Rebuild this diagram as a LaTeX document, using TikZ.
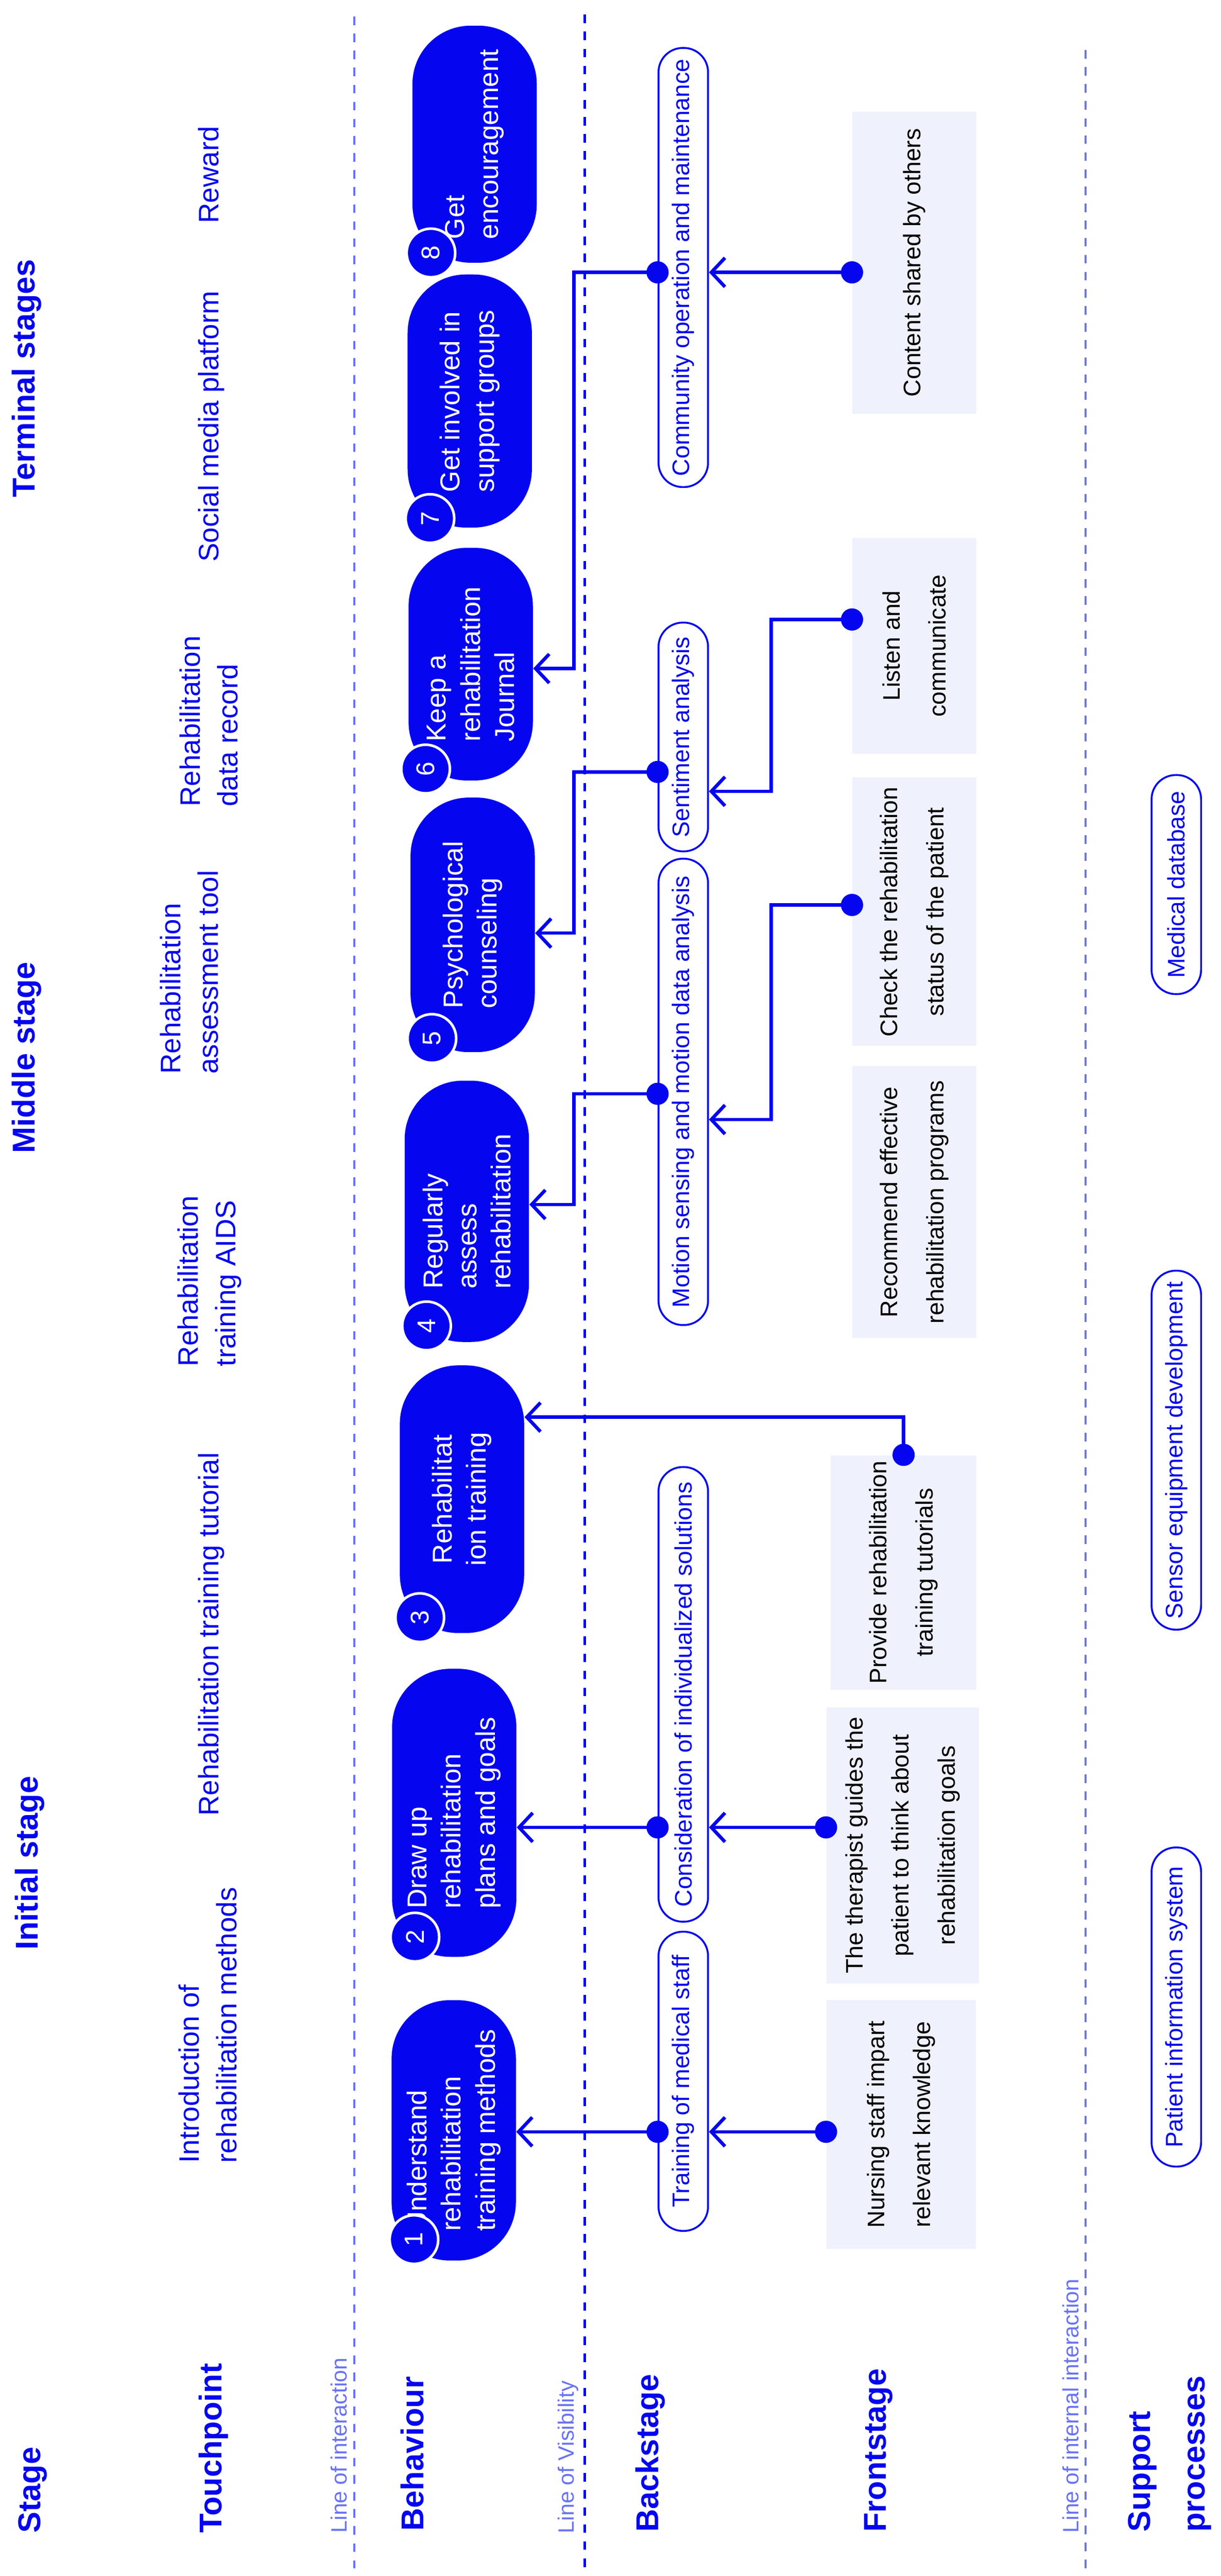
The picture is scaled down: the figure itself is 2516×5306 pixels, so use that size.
\documentclass[tikz,border=0pt]{standalone}
\usepackage{fontspec}
\setmainfont{Liberation Sans}
\usepackage{xcolor}
\usepackage{tikz}
\usetikzlibrary{arrows.meta}
\usetikzlibrary{positioning}

\definecolor{bluC}{RGB}{5,5,240}
\definecolor{bluL}{RGB}{105,115,245}
\definecolor{boxF}{RGB}{239,242,253}

\begin{document}
\begin{tikzpicture}[x=0.01cm,y=-0.01cm,
    head/.style={rotate=90,anchor=west,align=left,text=bluC,font=\fontsize{18.5}{32}\selectfont\bfseries,inner sep=0},
    touch/.style={rotate=90,anchor=west,align=left,text=bluC,font=\fontsize{16.5}{22}\selectfont,inner sep=0},
    linelab/.style={rotate=90,anchor=west,text=bluL,font=\fontsize{13}{15}\selectfont,inner sep=0},
    sepline/.style={bluL,line width=1.3pt,dash pattern=on 5pt off 5pt},
    pill/.style={rotate=90,fill=bluC,rounded corners=1.2cm,minimum height=2.56cm,text=white,align=left,font=\fontsize{16}{20}\selectfont},
    num/.style={circle,fill=bluC,draw=white,line width=1.5pt,minimum size=1cm,inner sep=0,text=white,rotate=90,font=\fontsize{15}{15}\selectfont},
    back/.style={rotate=90,draw=bluC,line width=1.1pt,rounded corners=0.5cm,minimum height=1.02cm,text=bluC,font=\fontsize{14}{16}\selectfont},
    front/.style={rotate=90,fill=boxF,align=center,font=\fontsize{14}{27}\selectfont},
    conn/.style={bluC,line width=2pt,{Circle[length=13pt]}-{Straight Barb[length=8pt,width=17pt]},shorten <=-6.5pt}]
  \useasboundingbox (0,0) rectangle (2516,5306);

  % separating lines
  \draw[sepline] (730,34) -- (730,5290);
  \draw[sepline,bluC] (1205,30) -- (1205,5290);
  \draw[sepline] (2237,103) -- (2237,5290);
  \node[linelab] (lInt) at (698,5218) {Line of interaction};
  \node[linelab] (lVis) at (1171,5219) {Line of Visibility};
  \node[linelab] (lInn) at (2206,5218) {Line of internal interaction};

  % row and stage headings
  \node[head] (hStage) at (68,5218) {Stage};
  \node[head] (hInit) at (61,4017) {Initial stage};
  \node[head] (hMid) at (55,2376) {Middle stage};
  \node[head] (hTerm) at (55,1025) {Terminal stages};
  \node[head] (hTouch) at (440,5218) {Touchpoint};
  \node[head] (hBeh) at (850,5214) {Behaviour};
  \node[head] (hBack) at (1340,5216) {Backstage};
  \node[head] (hFront) at (1810,5216) {Frontstage};
  \node[head] (hSup) at (2410,5216) {Support\\processes};

  % touchpoints
  \node[touch] (t1) at (428,4456) {Introduction of\\rehabilitation methods};
  \node[touch] (t2) at (436,3741) {Rehabilitation training tutorial};
  \node[touch] (t3) at (432,2815) {Rehabilitation\\training AIDS};
  \node[touch] (t4) at (390,2213) {Rehabilitation\\assessment tool};
  \node[touch] (t5) at (430,1662) {Rehabilitation\\data record};
  \node[touch] (t6) at (435,1158) {Social media platform};
  \node[touch] (t7) at (430,461) {Reward};

  % behaviour
  \node[pill,minimum width=5.36cm] (b1) at (935,4388) {Understand\\rehabilitation\\training methods};
  \node[pill,minimum width=5.93cm] (b2) at (936,3734) {Draw up\\rehabilitation\\plans and goals};
  \node[pill,minimum width=5.51cm,align=center] (b3) at (952,3088) {Rehabilitat\\ion training};
  \node[pill,minimum width=5.38cm] (b4) at (962,2495) {Regularly\\assess\\rehabilitation};
  \node[pill,minimum width=5.24cm] (b5) at (974,1905) {Psychological\\counseling};
  \node[pill,minimum width=4.79cm] (b6) at (970,1368) {Keep a\\rehabilitation\\Journal};
  \node[pill,minimum width=5.21cm] (b7) at (968,826) {Get involved in\\support groups};
  \node[pill,minimum width=4.88cm] (b8) at (978,297) {Get\\encouragement};
  \foreach \n/\px/\py in {1/853/4613,2/855/3990,3/865/3332,4/879/2731,5/890/2139,6/877/1584,7/886/1068,8/888/521}
    \node[num] (n\n) at (\px,\py) {\n};

  % backstage
  \node[back,minimum width=9.04cm] (com) at (1408,551) {Community operation and maintenance};
  \node[back,minimum width=4.71cm] (sen) at (1408,1518) {Sentiment analysis};
  \node[back,minimum width=9.60cm] (mot) at (1408,2249) {Motion sensing and motion data analysis};
  \node[back,minimum width=9.36cm] (con) at (1408,3490) {Consideration of individualized solutions};
  \node[back,minimum width=6.16cm] (tra) at (1408,4287) {Training of medical staff};

  % frontstage
  \node[front,minimum width=6.22cm,minimum height=2.55cm] (fCon) at (1884,541) {Content shared by others};
  \node[front,minimum width=4.44cm,minimum height=2.55cm] (fLis) at (1884,1330) {Listen and\\communicate};
  \node[front,minimum width=5.53cm,minimum height=2.55cm] (fChk) at (1884,1878) {Check the rehabilitation\\status of the patient};
  \node[front,minimum width=5.60cm,minimum height=2.55cm] (fRec) at (1884,2476) {Recommend effective\\rehabilitation programs};
  \node[front,minimum width=4.78cm,minimum height=3.00cm] (fPro) at (1862,3239) {Provide rehabilitation\\training tutorials};
  \node[front,minimum width=5.68cm,minimum height=3.14cm] (fThe) at (1860,3801) {The therapist guides the\\patient to think about\\rehabilitation goals};
  \node[front,minimum width=5.12cm,minimum height=3.08cm] (fNur) at (1857,4376) {Nursing staff impart\\relevant knowledge};

  % support processes
  \node[back,minimum width=4.51cm] (sMed) at (2424,1822) {Medical database};
  \node[back,minimum width=7.39cm] (sSen) at (2424,2987) {Sensor equipment development};
  \node[back,minimum width=6.57cm] (sPat) at (2424,4134) {Patient information system};

  % connector levels
  \coordinate (xL) at (1183,0);
  \coordinate (xR) at (1589,0);
  \foreach \c/\v in {y1/4391,y2/3764,y3/2919,y4a/2253,y4b/2481,y4c/1864,y4d/2306,y5a/1590,y5b/1922,y5c/1276,y5d/1630,y6a/561,y6b/1377}
    \coordinate (\c) at (0,\v);

  % connectors
  \draw[conn] (fNur.north |- y1) -- (tra.south |- y1);
  \draw[conn] (tra.north |- y1) -- (b1.south |- y1);
  \draw[conn] (fThe.north |- y2) -- (con.south |- y2);
  \draw[conn] (con.north |- y2) -- (b2.south |- y2);
  \draw[conn] (fPro.east) -- (fPro.east |- y3) -- (b3.south |- y3);
  \draw[conn] (mot.north |- y4a) -- (xL |- y4a) -- (xL |- y4b) -- (b4.south |- y4b);
  \draw[conn] (fChk.north |- y4c) -- (xR |- y4c) -- (xR |- y4d) -- (mot.south |- y4d);
  \draw[conn] (sen.north |- y5a) -- (xL |- y5a) -- (xL |- y5b) -- (b5.south |- y5b);
  \draw[conn] (fLis.north |- y5c) -- (xR |- y5c) -- (xR |- y5d) -- (sen.south |- y5d);
  \draw[conn] (com.north |- y6a) -- (xL |- y6a) -- (xL |- y6b) -- (b6.south |- y6b);
  \draw[conn] (fCon.north |- y6a) -- (com.south |- y6a);
\end{tikzpicture}
\end{document}
